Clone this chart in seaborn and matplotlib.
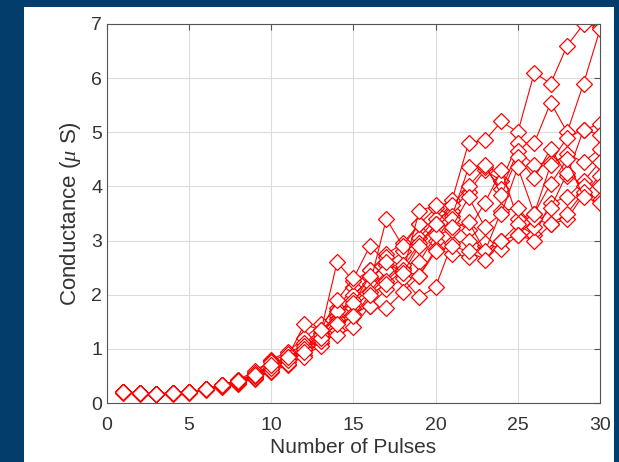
import numpy as np
import pandas as pd
import matplotlib
matplotlib.use("Agg")
import matplotlib.pyplot as plt
import seaborn as sns
from matplotlib.patches import Rectangle

# pulse numbers
pulses = list(range(1, 31))

# conductance (uS) of each device
s1 = [0.20, 0.18, 0.17, 0.18, 0.20, 0.25, 0.33, 0.40, 0.55, 0.80, 0.95, 1.20, 1.45, 1.75, 2.15,
      2.45, 2.75, 2.95, 3.30, 3.60, 3.75, 4.80, 4.85, 5.20, 5.00, 6.10, 5.90, 6.60, 7.00, 6.95]
s2 = [0.20, 0.18, 0.17, 0.18, 0.20, 0.26, 0.34, 0.42, 0.60, 0.78, 0.90, 1.10, 1.35, 1.60, 2.00,
      2.30, 2.55, 2.80, 3.05, 3.40, 3.55, 3.90, 4.30, 4.10, 4.80, 4.80, 5.55, 5.00, 5.90, 6.90]
s3 = [0.21, 0.19, 0.17, 0.19, 0.21, 0.26, 0.33, 0.40, 0.55, 0.70, 0.85, 1.00, 1.30, 2.60, 2.25,
      2.45, 2.70, 2.50, 2.95, 3.30, 3.65, 4.00, 4.35, 3.95, 4.65, 4.40, 4.45, 4.90, 5.05, 5.15]
s4 = [0.20, 0.18, 0.17, 0.18, 0.20, 0.25, 0.32, 0.38, 0.50, 0.75, 0.80, 1.05, 1.20, 1.55, 1.90,
      2.20, 3.40, 2.90, 3.30, 3.00, 3.45, 4.35, 4.40, 3.85, 4.55, 4.15, 4.70, 4.20, 5.05, 4.95]
s5 = [0.19, 0.17, 0.16, 0.17, 0.19, 0.24, 0.30, 0.36, 0.48, 0.62, 0.75, 0.95, 1.10, 1.50, 1.75,
      2.05, 2.45, 2.40, 3.55, 3.65, 3.40, 3.20, 3.70, 4.30, 3.40, 3.50, 4.40, 4.60, 4.45, 4.70]
s6 = [0.20, 0.18, 0.17, 0.18, 0.20, 0.25, 0.31, 0.37, 0.45, 0.58, 0.70, 0.88, 1.05, 1.35, 1.65,
      1.80, 2.10, 2.30, 1.95, 2.15, 2.95, 3.00, 2.90, 3.00, 3.30, 3.10, 3.70, 3.80, 4.10, 4.45]
s7 = [0.20, 0.18, 0.17, 0.18, 0.20, 0.25, 0.32, 0.38, 0.47, 0.60, 0.72, 0.85, 1.15, 1.25, 1.40,
      1.80, 1.75, 2.05, 2.35, 2.85, 2.75, 2.70, 2.95, 2.85, 3.10, 3.00, 3.30, 3.40, 3.85, 4.20]
s8 = [0.20, 0.18, 0.17, 0.18, 0.20, 0.25, 0.33, 0.42, 0.52, 0.68, 0.82, 1.00, 1.25, 1.70, 1.85,
      2.35, 2.25, 2.55, 2.60, 3.10, 3.20, 3.35, 2.80, 3.55, 3.60, 3.25, 3.60, 4.25, 4.00, 4.00]
s9 = [0.20, 0.18, 0.17, 0.18, 0.20, 0.25, 0.32, 0.40, 0.50, 0.65, 0.80, 0.95, 1.20, 1.45, 1.60,
      2.00, 2.20, 2.45, 2.35, 2.80, 2.90, 2.80, 2.65, 3.00, 3.10, 3.40, 3.30, 3.50, 3.90, 3.75]
s10 = [0.20, 0.18, 0.17, 0.18, 0.20, 0.25, 0.33, 0.40, 0.52, 0.70, 0.85, 1.45, 1.35, 1.90, 2.30,
       2.90, 2.60, 2.40, 2.90, 3.30, 3.25, 3.80, 3.25, 3.50, 4.35, 3.50, 4.05, 4.50, 3.80, 3.70]

series = [s1, s2, s3, s4, s5, s6, s7, s8, s9, s10]

# long-form table for seaborn
df = pd.DataFrame({
    "pulse": pulses * len(series),
    "G": np.concatenate(series),
    "dev": np.repeat(np.arange(len(series)), len(pulses)),
})

sns.set_style("white")
plt.rcParams["font.family"] = ["Liberation Sans", "DejaVu Sans"]
plt.rcParams["mathtext.fontset"] = "custom"
plt.rcParams["mathtext.it"] = "Liberation Serif:italic"

fig = plt.figure(figsize=(6.19, 4.62), dpi=100, facecolor="#033d6b")
# white slide panel behind the axes
fig.patches.append(Rectangle((24 / 619, 0), (614 - 24) / 619, (462 - 7) / 462,
                             transform=fig.transFigure, facecolor="white",
                             edgecolor="none", zorder=-10))

ax = fig.add_axes([107 / 619, 59 / 462, 493 / 619, 379 / 462])
sns.lineplot(data=df, x="pulse", y="G", units="dev", estimator=None,
             color="red", lw=0.8, marker="D", markersize=8,
             markerfacecolor="white", markeredgecolor="red",
             markeredgewidth=0.9, ax=ax, legend=False)

ax.set_xlim(0, 30)
ax.set_ylim(0, 7)
ax.set_xticks(range(0, 31, 5))
ax.set_yticks(range(0, 8))
ax.grid(True, color="#dcdcdc", lw=0.8)
ax.set_axisbelow(True)
for sp in ax.spines.values():
    sp.set_color("#555555")
    sp.set_linewidth(0.8)
ax.tick_params(direction="in", top=True, right=True, length=4,
               color="#555555", labelsize=14, labelcolor="#333333")
ax.tick_params(axis="x", pad=10)
ax.set_xlabel("Number of Pulses", fontsize=15, color="#333333", labelpad=3)
ax.set_ylabel(r"Conductance ($\mu$ S)", fontsize=16, color="#333333", labelpad=6)

fig.savefig("out.png", dpi=100, facecolor=fig.get_facecolor())
